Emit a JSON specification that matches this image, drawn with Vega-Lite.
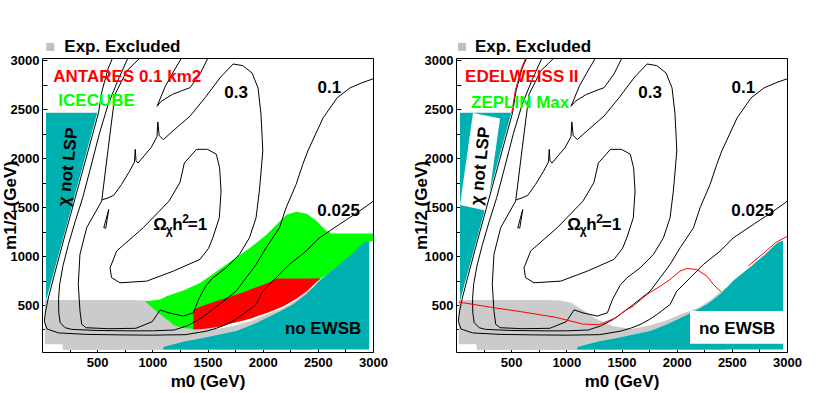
{
  "$schema": "https://vega.github.io/schema/vega-lite/v6.json",
  "background": "white",
  "padding": {"left": 0, "top": 37, "right": 5, "bottom": 2},
  "bounds": "flush",
  "spacing": 83,
  "config": {
    "view": {"stroke": "black", "strokeWidth": 1},
    "axis": {"labelFont": "Liberation Sans", "labelFontWeight": "bold", "labelFontSize": 13, "labelColor": "black",
             "titleFont": "Liberation Sans", "titleFontWeight": "bold", "titleFontSize": 17, "titleColor": "black",
             "tickColor": "black", "tickSize": -5, "tickWidth": 1, "domain": false, "grid": false,
             "labelOverlap": false, "labelBound": false, "labelFlush": false},
    "text": {"font": "Liberation Sans", "fontWeight": "bold", "fontSize": 17, "color": "black"}
  },
  "datasets": {
    "grey": [
      {"m0":25,"v":550,"v2":100},{"m0":185,"v":550,"v2":100},{"m0":190,"v":550,"v2":40},{"m0":800,"v":550,"v2":40},
      {"m0":950,"v":545,"v2":40},{"m0":1050,"v":520,"v2":40},{"m0":1149,"v":450,"v2":40},{"m0":1200,"v":410,"v2":40},
      {"m0":1269,"v":360,"v2":40},{"m0":1350,"v":320,"v2":40},{"m0":1420,"v":285,"v2":40},{"m0":1587,"v":255,"v2":40},
      {"m0":1750,"v":290,"v2":40},{"m0":1900,"v":340,"v2":40},{"m0":2050,"v":410,"v2":40},{"m0":2200,"v":475,"v2":40},
      {"m0":2300,"v":545,"v2":40},{"m0":2400,"v":640,"v2":40},{"m0":2450,"v":680,"v2":40}
    ],
    "green": [
      {"m0":934,"v":539,"v2":539},{"m0":1000,"v":547,"v2":470},{"m0":1070,"v":556,"v2":405},{"m0":1130,"v":590,"v2":355},
      {"m0":1200,"v":617,"v2":290},{"m0":1281,"v":648,"v2":266},{"m0":1372,"v":695,"v2":255},{"m0":1432,"v":726,"v2":262},
      {"m0":1584,"v":846,"v2":280},{"m0":1735,"v":965,"v2":320},{"m0":1886,"v":1084,"v2":365},{"m0":2037,"v":1221,"v2":425},
      {"m0":2158,"v":1357,"v2":480},{"m0":2219,"v":1425,"v2":510},{"m0":2309,"v":1452,"v2":575},{"m0":2400,"v":1432,"v2":650},
      {"m0":2491,"v":1357,"v2":740},{"m0":2520,"v":1320,"v2":765},{"m0":2581,"v":1255,"v2":810},{"m0":2627,"v":1231,"v2":850},
      {"m0":2700,"v":1231,"v2":910},{"m0":2800,"v":1231,"v2":1010},{"m0":2900,"v":1231,"v2":1110},{"m0":2965,"v":1231,"v2":1150},
      {"m0":3000,"v":1231,"v2":1150}
    ],
    "red": [
      {"m0":1372,"v":454,"v2":249},{"m0":1450,"v":490,"v2":255},{"m0":1584,"v":540,"v2":273},{"m0":1675,"v":573,"v2":300},
      {"m0":1825,"v":630,"v2":342},{"m0":1886,"v":658,"v2":360},{"m0":2037,"v":720,"v2":419},{"m0":2128,"v":771,"v2":460},
      {"m0":2188,"v":771,"v2":488},{"m0":2309,"v":771,"v2":566},{"m0":2400,"v":771,"v2":641},{"m0":2520,"v":771,"v2":765}
    ],
    "stau": [{"m0":36,"v":2464,"v2":540},{"m0":501,"v":2464,"v2":2464}],
    "ewsb": [
      {"m0":1100,"v":70,"v2":45},{"m0":1300,"v":130,"v2":45},{"m0":1450,"v":160,"v2":45},{"m0":1600,"v":195,"v2":45},
      {"m0":1760,"v":235,"v2":45},{"m0":1900,"v":295,"v2":45},{"m0":2050,"v":375,"v2":45},{"m0":2150,"v":430,"v2":45},
      {"m0":2280,"v":510,"v2":45},{"m0":2400,"v":615,"v2":45},{"m0":2520,"v":755,"v2":45},{"m0":2670,"v":890,"v2":45},
      {"m0":2800,"v":1016,"v2":45},{"m0":2913,"v":1135,"v2":45},{"m0":2965,"v":1160,"v2":45}
    ],
    "wbox": [{"m0":36,"v":1522,"v2":1522},{"m0":154,"v":2462,"v2":1493},{"m0":281,"v":2432,"v2":1461},{"m0":399,"v":2405,"v2":2405}],
    "wrect": [{"m0":2121,"m02":2968,"v":439,"v2":105}],
    "contours": [
      {"id":"A","m0":640,"v":3025},{"id":"A","m0":598,"v":2911},{"id":"A","m0":544,"v":2686},{"id":"A","m0":512,"v":2462},
      {"id":"A","m0":400,"v":2000},{"id":"A","m0":300,"v":1590},{"id":"A","m0":200,"v":1180},{"id":"A","m0":110,"v":800},
      {"id":"A","m0":55,"v":560},{"id":"A","m0":35,"v":450},{"id":"A","m0":25,"v":380},{"id":"A","m0":22,"v":330},
      {"id":"A","m0":45,"v":255},{"id":"A","m0":150,"v":215},{"id":"A","m0":400,"v":200},{"id":"A","m0":700,"v":195},
      {"id":"A","m0":1000,"v":192},{"id":"A","m0":1300,"v":197},{"id":"A","m0":1487,"v":232},{"id":"A","m0":1580,"v":262},
      {"id":"A","m0":1668,"v":300},{"id":"A","m0":1750,"v":350},{"id":"A","m0":1820,"v":403},{"id":"A","m0":1940,"v":505},
      {"id":"A","m0":2001,"v":641},{"id":"A","m0":2121,"v":777},{"id":"A","m0":2242,"v":914},{"id":"A","m0":2393,"v":1050},
      {"id":"A","m0":2514,"v":1186},{"id":"A","m0":2695,"v":1323},{"id":"A","m0":2877,"v":1459},{"id":"A","m0":2983,"v":1544},
      {"id":"A","m0":3000,"v":1560},
      {"id":"B","m0":780,"v":3025},{"id":"B","m0":690,"v":2800},{"id":"B","m0":600,"v":2550},{"id":"B","m0":520,"v":2250},
      {"id":"B","m0":440,"v":1900},{"id":"B","m0":370,"v":1600},{"id":"B","m0":300,"v":1350},{"id":"B","m0":240,"v":1120},
      {"id":"B","m0":190,"v":900},{"id":"B","m0":160,"v":711},{"id":"B","m0":150,"v":560},{"id":"B","m0":152,"v":420},
      {"id":"B","m0":165,"v":320},{"id":"B","m0":210,"v":268},{"id":"B","m0":269,"v":251},{"id":"B","m0":500,"v":240},
      {"id":"B","m0":800,"v":236},{"id":"B","m0":1000,"v":236},{"id":"B","m0":1200,"v":245},{"id":"B","m0":1320,"v":290},
      {"id":"B","m0":1420,"v":350},{"id":"B","m0":1487,"v":403},{"id":"B","m0":1607,"v":505},{"id":"B","m0":1759,"v":641},
      {"id":"B","m0":1850,"v":777},{"id":"B","m0":1940,"v":914},{"id":"B","m0":2031,"v":1084},{"id":"B","m0":2152,"v":1288},
      {"id":"B","m0":2212,"v":1493},{"id":"B","m0":2303,"v":1732},{"id":"B","m0":2364,"v":1937},{"id":"B","m0":2409,"v":2073},
      {"id":"B","m0":2548,"v":2412},{"id":"B","m0":2675,"v":2616},{"id":"B","m0":2792,"v":2718},{"id":"B","m0":2900,"v":2770},
      {"id":"B","m0":3000,"v":2810},
      {"id":"C","m0":889,"v":3025},{"id":"C","m0":768,"v":2891},{"id":"C","m0":662,"v":2652},{"id":"C","m0":600,"v":2100},
      {"id":"C","m0":541,"v":1562},{"id":"C","m0":405,"v":1290},{"id":"C","m0":344,"v":1018},{"id":"C","m0":329,"v":711},
      {"id":"C","m0":344,"v":440},{"id":"C","m0":360,"v":303},{"id":"C","m0":400,"v":268},{"id":"C","m0":600,"v":258},
      {"id":"C","m0":850,"v":262},{"id":"C","m0":1000,"v":330},{"id":"C","m0":1070,"v":450},{"id":"C","m0":1150,"v":420},
      {"id":"C","m0":1281,"v":387},{"id":"C","m0":1372,"v":420},{"id":"C","m0":1420,"v":560},{"id":"C","m0":1487,"v":700},
      {"id":"C","m0":1548,"v":777},{"id":"C","m0":1668,"v":879},{"id":"C","m0":1789,"v":1016},{"id":"C","m0":1880,"v":1186},
      {"id":"C","m0":1940,"v":1391},{"id":"C","m0":1970,"v":1664},{"id":"C","m0":1986,"v":1868},{"id":"C","m0":2001,"v":2073},
      {"id":"C","m0":1997,"v":2177},{"id":"C","m0":1985,"v":2450},{"id":"C","m0":1958,"v":2718},{"id":"C","m0":1904,"v":2870},
      {"id":"C","m0":1820,"v":2945},{"id":"C","m0":1732,"v":2962},{"id":"C","m0":1620,"v":2830},{"id":"C","m0":1480,"v":2620},
      {"id":"C","m0":1342,"v":2430},{"id":"C","m0":1206,"v":2297},{"id":"C","m0":1100,"v":2190},{"id":"C","m0":1062,"v":2230},
      {"id":"C","m0":1050,"v":2370},{"id":"C","m0":1042,"v":2220},{"id":"C","m0":990,"v":2110},{"id":"C","m0":930,"v":2030},
      {"id":"C","m0":870,"v":1950},{"id":"C","m0":852,"v":1975},{"id":"C","m0":845,"v":2090},{"id":"C","m0":838,"v":1960},
      {"id":"C","m0":790,"v":1860},{"id":"C","m0":720,"v":1730},{"id":"C","m0":650,"v":1620},{"id":"C","m0":590,"v":1590},
      {"id":"C","m0":545,"v":1575},
      {"id":"O","m0":1400,"v":2090},{"id":"O","m0":1290,"v":1950},{"id":"O","m0":1250,"v":1750},{"id":"O","m0":1150,"v":1560},
      {"id":"O","m0":918,"v":1290},{"id":"O","m0":677,"v":1052},{"id":"O","m0":617,"v":881},{"id":"O","m0":630,"v":780},
      {"id":"O","m0":707,"v":727},{"id":"O","m0":949,"v":744},{"id":"O","m0":1190,"v":846},{"id":"O","m0":1432,"v":966},
      {"id":"O","m0":1510,"v":1080},{"id":"O","m0":1548,"v":1186},{"id":"O","m0":1607,"v":1391},{"id":"O","m0":1623,"v":1664},
      {"id":"O","m0":1610,"v":1900},{"id":"O","m0":1580,"v":2040},{"id":"O","m0":1500,"v":2090},{"id":"O","m0":1400,"v":2090},
      {"id":"E","m0":1266,"v":3025},{"id":"E","m0":1200,"v":2900},{"id":"E","m0":1120,"v":2740},{"id":"E","m0":1043,"v":2530},
      {"id":"E","m0":1080,"v":2580},{"id":"E","m0":1180,"v":2650},{"id":"E","m0":1270,"v":2690},{"id":"E","m0":1342,"v":2720},
      {"id":"E","m0":1432,"v":2860},{"id":"E","m0":1505,"v":3025},
      {"id":"S","m0":605,"v":1476},{"id":"S","m0":560,"v":1290},{"id":"S","m0":578,"v":1285},{"id":"S","m0":605,"v":1476}
    ],
    "redline": [
      {"id":"R1","m0":25,"v":530},{"id":"R1","m0":300,"v":480},{"id":"R1","m0":600,"v":430},{"id":"R1","m0":900,"v":375},
      {"id":"R1","m0":1150,"v":305},{"id":"R1","m0":1300,"v":300},{"id":"R1","m0":1451,"v":370},{"id":"R1","m0":1530,"v":440},
      {"id":"R1","m0":1607,"v":490},{"id":"R1","m0":1729,"v":607},{"id":"R1","m0":1850,"v":692},{"id":"R1","m0":1940,"v":761},
      {"id":"R1","m0":2031,"v":846},{"id":"R1","m0":2091,"v":873},{"id":"R1","m0":2182,"v":863},{"id":"R1","m0":2273,"v":795},
      {"id":"R1","m0":2333,"v":710},{"id":"R1","m0":2378,"v":658},{"id":"R1","m0":2400,"v":640},
      {"id":"R2","m0":505,"v":2462},{"id":"R2","m0":537,"v":2686},{"id":"R2","m0":591,"v":2911},{"id":"R2","m0":633,"v":3025},
      {"id":"R3","m0":2650,"v":900},{"id":"R3","m0":2800,"v":1040},{"id":"R3","m0":2900,"v":1140},{"id":"R3","m0":3000,"v":1200}
    ],
    "txt": [
      {"k":"clab","p":"B","m0":1759,"v":2669,"t":"0.3"},
      {"k":"clab","p":"B","m0":2604,"v":2716,"t":"0.1"},
      {"k":"clab","p":"B","m0":2688,"v":1465,"t":"0.025"},
      {"k":"ew","p":"B","m0":2548,"v":260,"t":"no EWSB"},
      {"k":"lsp","p":"L","m0":238,"v":1910,"t":"χ not LSP"},
      {"k":"lsp","p":"R","m0":225,"v":1920,"t":"χ not LSP"},
      {"k":"red","p":"L","m0":102,"v":2831,"t":"ANTARES 0.1 km2"},
      {"k":"red","p":"R","m0":82,"v":2829,"t":"EDELWEISS II"},
      {"k":"grn","p":"L","m0":148,"v":2587,"t":"ICECUBE"},
      {"k":"grn","p":"R","m0":136,"v":2567,"t":"ZEPLIN Max"},
      {"k":"leg","p":"L","m0":202,"v":3138,"t":"Exp. Excluded"},
      {"k":"leg","p":"R","m0":172,"v":3138,"t":"Exp. Excluded"},
      {"k":"sq","p":"L","m0":75,"v":3136},
      {"k":"sq","p":"R","m0":54,"v":3136},
      {"k":"om","p":"B","m0":1009,"v":1266}
    ]
  },
  "hconcat": [
    {
      "width": 331, "height": 294,
      "encoding": {
        "x": {"field": "m0", "type": "quantitative", "scale": {"domain": [0, 3000], "nice": false, "zero": false},
              "axis": {"title": "m0 (GeV)", "values": [250,500,750,1000,1250,1500,1750,2000,2250,2500,2750,3000], "format": "d",
                       "labelExpr": "datum.value % 500 === 0 ? datum.label : ''", "labelPadding": 9, "titlePadding": 4}},
        "y": {"field": "v", "type": "quantitative", "scale": {"domain": [20, 3023], "nice": false, "zero": false},
              "axis": {"title": "m1/2 (GeV)", "values": [250,500,750,1000,1250,1500,1750,2000,2250,2500,2750,3000], "format": "d",
                       "labelExpr": "datum.value % 500 === 0 ? datum.label : ''", "labelPadding": 8, "titleX": -27, "titleBaseline": "alphabetic"}}
      },
      "layer": [
        {"data": {"name": "grey"}, "mark": {"type": "area", "color": "#cbcbcb", "clip": true}, "encoding": {"y2": {"field": "v2"}}},
        {"data": {"name": "green"}, "mark": {"type": "area", "color": "#00ff00", "clip": true}, "encoding": {"y2": {"field": "v2"}}},
        {"data": {"name": "red"}, "mark": {"type": "area", "color": "#ff0000", "clip": true}, "encoding": {"y2": {"field": "v2"}}},
        {"data": {"name": "stau"}, "mark": {"type": "area", "color": "#00b0b0", "clip": true}, "encoding": {"y2": {"field": "v2"}}},
        {"data": {"name": "ewsb"}, "mark": {"type": "area", "color": "#00b0b0", "clip": true}, "encoding": {"y2": {"field": "v2"}}},
        {"data": {"name": "contours"}, "mark": {"type": "line", "color": "black", "strokeWidth": 1, "clip": true},
         "encoding": {"detail": {"field": "id"}, "order": {"value": null}}},
        {"data": {"name": "txt"}, "transform": [{"filter": "datum.k === 'clab' || datum.k === 'ew'"}], "mark": {"type": "text"}, "encoding": {"text": {"field": "t"}}},
        {"data": {"name": "txt"}, "transform": [{"filter": "datum.k === 'lsp' && datum.p === 'L'"}], "mark": {"type": "text", "angle": 276}, "encoding": {"text": {"field": "t"}}},
        {"data": {"name": "txt"}, "transform": [{"filter": "datum.k === 'red' && datum.p === 'L'"}], "mark": {"type": "text", "align": "left", "color": "#ff0000"}, "encoding": {"text": {"field": "t"}}},
        {"data": {"name": "txt"}, "transform": [{"filter": "datum.k === 'grn' && datum.p === 'L'"}], "mark": {"type": "text", "align": "left", "color": "#00ff00"}, "encoding": {"text": {"field": "t"}}},
        {"data": {"name": "txt"}, "transform": [{"filter": "datum.k === 'leg' && datum.p === 'L'"}], "mark": {"type": "text", "align": "left"}, "encoding": {"text": {"field": "t"}}},
        {"data": {"name": "txt"}, "transform": [{"filter": "datum.k === 'sq' && datum.p === 'L'"}], "mark": {"type": "square", "size": 64, "color": "#c0c0c0", "opacity": 1}},
        {"data": {"name": "txt"}, "transform": [{"filter": "datum.k === 'om'"}], "mark": {"type": "text", "align": "left", "baseline": "alphabetic", "fontSize": 17}, "encoding": {"text": {"value": "Ω"}}},
        {"data": {"name": "txt"}, "transform": [{"filter": "datum.k === 'om'"}], "mark": {"type": "text", "align": "left", "baseline": "alphabetic", "fontSize": 12, "dx": 12.5, "dy": 4}, "encoding": {"text": {"value": "χ"}}},
        {"data": {"name": "txt"}, "transform": [{"filter": "datum.k === 'om'"}], "mark": {"type": "text", "align": "left", "baseline": "alphabetic", "fontSize": 17, "dx": 19}, "encoding": {"text": {"value": "h"}}},
        {"data": {"name": "txt"}, "transform": [{"filter": "datum.k === 'om'"}], "mark": {"type": "text", "align": "left", "baseline": "alphabetic", "fontSize": 12, "dx": 29, "dy": -7}, "encoding": {"text": {"value": "2"}}},
        {"data": {"name": "txt"}, "transform": [{"filter": "datum.k === 'om'"}], "mark": {"type": "text", "align": "left", "baseline": "alphabetic", "fontSize": 17, "dx": 34.5}, "encoding": {"text": {"value": "=1"}}}
      ]
    },
    {
      "width": 331, "height": 294,
      "encoding": {
        "x": {"field": "m0", "type": "quantitative", "scale": {"domain": [0, 3000], "nice": false, "zero": false},
              "axis": {"title": "m0 (GeV)", "values": [250,500,750,1000,1250,1500,1750,2000,2250,2500,2750,3000], "format": "d",
                       "labelExpr": "datum.value % 500 === 0 ? datum.label : ''", "labelPadding": 9, "titlePadding": 4}},
        "y": {"field": "v", "type": "quantitative", "scale": {"domain": [20, 3023], "nice": false, "zero": false},
              "axis": {"title": "m1/2 (GeV)", "values": [250,500,750,1000,1250,1500,1750,2000,2250,2500,2750,3000], "format": "d",
                       "labelExpr": "datum.value % 500 === 0 ? datum.label : ''", "labelPadding": 8, "titleX": -30, "titleBaseline": "alphabetic"}}
      },
      "layer": [
        {"data": {"name": "grey"}, "mark": {"type": "area", "color": "#cbcbcb", "clip": true}, "encoding": {"y2": {"field": "v2"}}},
        {"data": {"name": "stau"}, "mark": {"type": "area", "color": "#00b0b0", "clip": true}, "encoding": {"y2": {"field": "v2"}}},
        {"data": {"name": "wbox"}, "mark": {"type": "area", "color": "white", "clip": true}, "encoding": {"y2": {"field": "v2"}}},
        {"data": {"name": "ewsb"}, "mark": {"type": "area", "color": "#00b0b0", "clip": true}, "encoding": {"y2": {"field": "v2"}}},
        {"data": {"name": "wrect"}, "mark": {"type": "rect", "color": "white", "clip": true}, "encoding": {"x2": {"field": "m02"}, "y2": {"field": "v2"}}},
        {"data": {"name": "contours"}, "mark": {"type": "line", "color": "black", "strokeWidth": 1, "clip": true},
         "encoding": {"detail": {"field": "id"}, "order": {"value": null}}},
        {"data": {"name": "redline"}, "mark": {"type": "line", "color": "#ff0000", "strokeWidth": 1, "clip": true},
         "encoding": {"detail": {"field": "id"}, "order": {"value": null}}},
        {"data": {"name": "txt"}, "transform": [{"filter": "datum.k === 'clab' || datum.k === 'ew'"}], "mark": {"type": "text"}, "encoding": {"text": {"field": "t"}}},
        {"data": {"name": "txt"}, "transform": [{"filter": "datum.k === 'lsp' && datum.p === 'R'"}], "mark": {"type": "text", "angle": 276}, "encoding": {"text": {"field": "t"}}},
        {"data": {"name": "txt"}, "transform": [{"filter": "datum.k === 'red' && datum.p === 'R'"}], "mark": {"type": "text", "align": "left", "color": "#ff0000"}, "encoding": {"text": {"field": "t"}}},
        {"data": {"name": "txt"}, "transform": [{"filter": "datum.k === 'grn' && datum.p === 'R'"}], "mark": {"type": "text", "align": "left", "color": "#00ff00"}, "encoding": {"text": {"field": "t"}}},
        {"data": {"name": "txt"}, "transform": [{"filter": "datum.k === 'leg' && datum.p === 'R'"}], "mark": {"type": "text", "align": "left"}, "encoding": {"text": {"field": "t"}}},
        {"data": {"name": "txt"}, "transform": [{"filter": "datum.k === 'sq' && datum.p === 'R'"}], "mark": {"type": "square", "size": 64, "color": "#c0c0c0", "opacity": 1}},
        {"data": {"name": "txt"}, "transform": [{"filter": "datum.k === 'om'"}], "mark": {"type": "text", "align": "left", "baseline": "alphabetic", "fontSize": 17}, "encoding": {"text": {"value": "Ω"}}},
        {"data": {"name": "txt"}, "transform": [{"filter": "datum.k === 'om'"}], "mark": {"type": "text", "align": "left", "baseline": "alphabetic", "fontSize": 12, "dx": 12.5, "dy": 4}, "encoding": {"text": {"value": "χ"}}},
        {"data": {"name": "txt"}, "transform": [{"filter": "datum.k === 'om'"}], "mark": {"type": "text", "align": "left", "baseline": "alphabetic", "fontSize": 17, "dx": 19}, "encoding": {"text": {"value": "h"}}},
        {"data": {"name": "txt"}, "transform": [{"filter": "datum.k === 'om'"}], "mark": {"type": "text", "align": "left", "baseline": "alphabetic", "fontSize": 12, "dx": 29, "dy": -7}, "encoding": {"text": {"value": "2"}}},
        {"data": {"name": "txt"}, "transform": [{"filter": "datum.k === 'om'"}], "mark": {"type": "text", "align": "left", "baseline": "alphabetic", "fontSize": 17, "dx": 34.5}, "encoding": {"text": {"value": "=1"}}}
      ]
    }
  ]
}
